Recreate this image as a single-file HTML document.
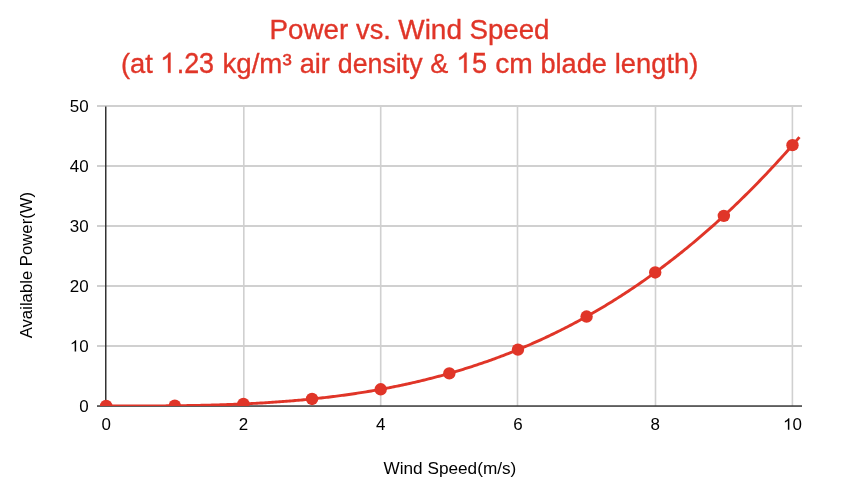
<!DOCTYPE html>
<html><head><meta charset="utf-8"><title>Power vs. Wind Speed</title><style>
html,body{margin:0;padding:0;background:#fff;}
body{width:859px;height:495px;overflow:hidden;}
svg{display:block;font-family:"Liberation Sans",sans-serif;will-change:transform;}
</style></head><body>
<svg width="859" height="495" viewBox="0 0 859 495">
<defs><clipPath id="ca"><rect x="97" y="106" width="705" height="300"/></clipPath></defs>
<g fill="#e03528" stroke="#e03528" stroke-width="0.35" font-size="28">
<text transform="translate(269.60,38.8) scale(0.9923,1.0)">Power</text>
<text transform="translate(356.05,38.8) scale(0.9718,0.985)">vs.</text>
<text transform="translate(398.25,38.8) scale(0.9995,1.0)">Wind</text>
<text transform="translate(469.41,38.8) scale(0.9896,1.0)">Speed</text>
<text transform="translate(120.93,72.7) scale(0.9760,0.985)">(at</text>
<text transform="translate(176.65,72.7) scale(0.9618,1.04)">.23</text>
<text transform="translate(222.48,72.7) scale(0.9882,0.985)">kg/m³</text>
<text transform="translate(299.66,72.7) scale(0.9696,0.985)">air</text>
<text transform="translate(337.80,72.7) scale(0.9558,0.985)">density</text>
<text transform="translate(430.19,72.7) scale(0.9674,0.985)">&amp;</text>
<text transform="translate(472.03,72.7) scale(0.9648,1.04)">5</text>
<text transform="translate(495.23,72.7) scale(1.0078,0.985)">cm</text>
<text transform="translate(540.38,72.7) scale(0.9727,0.985)">blade</text>
<text transform="translate(614.70,72.7) scale(0.9766,0.985)">length)</text>
<path transform="translate(160.07,72.7) scale(0.013672,-0.013672)" d="M763 0L583 0L583 1147Q518 1085 412 1023Q307 961 223 930L223 1104Q374 1175 487 1276Q600 1377 647 1466L763 1466Z" vector-effect="non-scaling-stroke"/>
<path transform="translate(456.17,72.7) scale(0.013672,-0.013672)" d="M763 0L583 0L583 1147Q518 1085 412 1023Q307 961 223 930L223 1104Q374 1175 487 1276Q600 1377 647 1466L763 1466Z" vector-effect="non-scaling-stroke"/>
</g>
<g fill="#d0d0d0"><rect x="97" y="345.0" width="705" height="2"/><rect x="97" y="285.0" width="705" height="2"/><rect x="97" y="225.0" width="705" height="2"/><rect x="97" y="165.0" width="705" height="2"/><rect x="97" y="105.0" width="705" height="2"/><rect x="243.00" y="106" width="1.6" height="300"/><rect x="379.90" y="106" width="1.6" height="300"/><rect x="516.70" y="106" width="1.6" height="300"/><rect x="654.70" y="106" width="1.6" height="300"/><rect x="791.60" y="106" width="1.6" height="300"/></g>
<rect x="97" y="405.3" width="705" height="1.5" fill="#363636"/>
<rect x="105" y="106.5" width="1.5" height="299.5" fill="#333"/>
<g clip-path="url(#ca)">
<polyline points="106.17,406.00 107.90,406.00 109.64,406.00 111.37,406.00 113.10,406.00 114.84,406.00 116.57,406.00 118.30,406.00 120.04,406.00 121.77,406.00 123.50,406.00 125.24,405.99 126.97,405.99 128.70,405.99 130.44,405.99 132.17,405.99 133.90,405.98 135.64,405.98 137.37,405.98 139.10,405.97 140.84,405.97 142.57,405.96 144.30,405.96 146.03,405.95 147.77,405.94 149.50,405.93 151.23,405.93 152.97,405.92 154.70,405.91 156.43,405.90 158.17,405.89 159.90,405.87 161.63,405.86 163.37,405.85 165.10,405.83 166.83,405.82 168.57,405.80 170.30,405.79 172.03,405.77 173.77,405.75 175.50,405.73 177.23,405.71 178.97,405.69 180.70,405.67 182.43,405.64 184.17,405.62 185.90,405.59 187.63,405.56 189.37,405.54 191.10,405.51 192.83,405.47 194.57,405.44 196.30,405.41 198.03,405.37 199.77,405.34 201.50,405.30 203.23,405.26 204.97,405.22 206.70,405.18 208.43,405.14 210.17,405.09 211.90,405.05 213.63,405.00 215.36,404.95 217.10,404.90 218.83,404.85 220.56,404.79 222.30,404.74 224.03,404.68 225.76,404.62 227.50,404.56 229.23,404.50 230.96,404.43 232.70,404.37 234.43,404.30 236.16,404.23 237.90,404.16 239.63,404.08 241.36,404.01 243.10,403.93 244.83,403.85 246.56,403.77 248.30,403.68 250.03,403.60 251.76,403.51 253.50,403.42 255.23,403.33 256.96,403.23 258.70,403.14 260.43,403.04 262.16,402.94 263.90,402.83 265.63,402.73 267.36,402.62 269.10,402.51 270.83,402.40 272.56,402.28 274.30,402.17 276.03,402.05 277.76,401.92 279.50,401.80 281.23,401.67 282.96,401.54 284.69,401.41 286.43,401.27 288.16,401.14 289.89,401.00 291.63,400.85 293.36,400.71 295.09,400.56 296.83,400.41 298.56,400.25 300.29,400.10 302.03,399.94 303.76,399.78 305.49,399.61 307.23,399.44 308.96,399.27 310.69,399.10 312.43,398.92 314.16,398.74 315.89,398.56 317.63,398.37 319.36,398.18 321.09,397.99 322.83,397.79 324.56,397.60 326.29,397.39 328.03,397.19 329.76,396.98 331.49,396.77 333.23,396.55 334.96,396.34 336.69,396.12 338.43,395.89 340.16,395.66 341.89,395.43 343.63,395.20 345.36,394.96 347.09,394.72 348.83,394.47 350.56,394.22 352.29,393.97 354.02,393.71 355.76,393.45 357.49,393.19 359.22,392.92 360.96,392.65 362.69,392.38 364.42,392.10 366.16,391.82 367.89,391.53 369.62,391.25 371.36,390.95 373.09,390.66 374.82,390.35 376.56,390.05 378.29,389.74 380.02,389.43 381.76,389.11 383.49,388.79 385.22,388.47 386.96,388.14 388.69,387.80 390.42,387.47 392.16,387.13 393.89,386.78 395.62,386.43 397.36,386.08 399.09,385.72 400.82,385.36 402.56,384.99 404.29,384.62 406.02,384.25 407.76,383.87 409.49,383.48 411.22,383.09 412.96,382.70 414.69,382.30 416.42,381.90 418.16,381.50 419.89,381.09 421.62,380.67 423.35,380.25 425.09,379.83 426.82,379.40 428.55,378.96 430.29,378.53 432.02,378.08 433.75,377.63 435.49,377.18 437.22,376.72 438.95,376.26 440.69,375.80 442.42,375.32 444.15,374.85 445.89,374.36 447.62,373.88 449.35,373.39 451.09,372.89 452.82,372.39 454.55,371.88 456.29,371.37 458.02,370.85 459.75,370.33 461.49,369.80 463.22,369.27 464.95,368.73 466.69,368.19 468.42,367.64 470.15,367.09 471.89,366.53 473.62,365.97 475.35,365.40 477.09,364.82 478.82,364.24 480.55,363.66 482.29,363.07 484.02,362.47 485.75,361.87 487.49,361.26 489.22,360.65 490.95,360.03 492.68,359.41 494.42,358.78 496.15,358.14 497.88,357.50 499.62,356.86 501.35,356.20 503.08,355.54 504.82,354.88 506.55,354.21 508.28,353.54 510.02,352.85 511.75,352.17 513.48,351.47 515.22,350.77 516.95,350.07 518.68,349.36 520.42,348.64 522.15,347.92 523.88,347.19 525.62,346.45 527.35,345.71 529.08,344.97 530.82,344.21 532.55,343.45 534.28,342.69 536.02,341.92 537.75,341.14 539.48,340.35 541.22,339.56 542.95,338.76 544.68,337.96 546.42,337.15 548.15,336.33 549.88,335.51 551.62,334.68 553.35,333.85 555.08,333.00 556.82,332.16 558.55,331.30 560.28,330.44 562.01,329.57 563.75,328.69 565.48,327.81 567.21,326.92 568.95,326.03 570.68,325.13 572.41,324.22 574.15,323.30 575.88,322.38 577.61,321.45 579.35,320.52 581.08,319.57 582.81,318.62 584.55,317.67 586.28,316.70 588.01,315.73 589.75,314.75 591.48,313.77 593.21,312.78 594.95,311.78 596.68,310.77 598.41,309.76 600.15,308.74 601.88,307.71 603.61,306.68 605.35,305.64 607.08,304.59 608.81,303.53 610.55,302.47 612.28,301.40 614.01,300.32 615.75,299.23 617.48,298.14 619.21,297.04 620.95,295.93 622.68,294.81 624.41,293.69 626.15,292.56 627.88,291.42 629.61,290.28 631.34,289.12 633.08,287.96 634.81,286.79 636.54,285.62 638.28,284.43 640.01,283.24 641.74,282.04 643.48,280.83 645.21,279.62 646.94,278.40 648.68,277.16 650.41,275.93 652.14,274.68 653.88,273.42 655.61,272.16 657.34,270.89 659.08,269.61 660.81,268.33 662.54,267.03 664.28,265.73 666.01,264.42 667.74,263.10 669.48,261.77 671.21,260.44 672.94,259.09 674.68,257.74 676.41,256.38 678.14,255.01 679.88,253.64 681.61,252.25 683.34,250.86 685.08,249.45 686.81,248.04 688.54,246.63 690.28,245.20 692.01,243.76 693.74,242.32 695.48,240.87 697.21,239.40 698.94,237.93 700.67,236.46 702.41,234.97 704.14,233.47 705.87,231.97 707.61,230.45 709.34,228.93 711.07,227.40 712.81,225.86 714.54,224.31 716.27,222.76 718.01,221.19 719.74,219.62 721.47,218.03 723.21,216.44 724.94,214.84 726.67,213.23 728.41,211.61 730.14,209.98 731.87,208.34 733.61,206.69 735.34,205.03 737.07,203.37 738.81,201.69 740.54,200.01 742.27,198.32 744.01,196.62 745.74,194.90 747.47,193.18 749.21,191.45 750.94,189.71 752.67,187.96 754.41,186.21 756.14,184.44 757.87,182.66 759.61,180.87 761.34,179.08 763.07,177.27 764.81,175.46 766.54,173.63 768.27,171.80 770.00,169.95 771.74,168.10 773.47,166.24 775.20,164.36 776.94,162.48 778.67,160.59 780.40,158.69 782.14,156.77 783.87,154.85 785.60,152.92 787.34,150.98 789.07,149.03 790.80,147.06 792.54,145.09 794.27,143.11 796.00,141.12 797.74,139.12 799.47,137.11" fill="none" stroke="#e03528" stroke-width="2.9"/>
<g fill="#e03528"><circle cx="106.17" cy="406.00" r="6.2"/><circle cx="174.80" cy="405.74" r="6.2"/><circle cx="243.43" cy="403.91" r="6.2"/><circle cx="312.06" cy="398.96" r="6.2"/><circle cx="380.69" cy="389.31" r="6.2"/><circle cx="449.32" cy="373.40" r="6.2"/><circle cx="517.95" cy="349.66" r="6.2"/><circle cx="586.58" cy="316.54" r="6.2"/><circle cx="655.21" cy="272.45" r="6.2"/><circle cx="723.84" cy="215.85" r="6.2"/><circle cx="792.47" cy="145.17" r="6.2"/></g>
</g>
<g fill="#000" font-size="16"><g transform="translate(88.7,411.60) scale(1.06,1.04)"><text text-anchor="end">0</text></g><g transform="translate(88.7,351.60) scale(1.06,1.04)"><path transform="translate(-17.797,0) scale(0.0078125,-0.0075120)" d="M763 0L583 0L583 1147Q518 1085 412 1023Q307 961 223 930L223 1104Q374 1175 487 1276Q600 1377 647 1466L763 1466Z"/><text x="-8.898">0</text></g><g transform="translate(88.7,291.60) scale(1.06,1.04)"><text text-anchor="end">20</text></g><g transform="translate(88.7,231.60) scale(1.06,1.04)"><text text-anchor="end">30</text></g><g transform="translate(88.7,171.60) scale(1.06,1.04)"><text text-anchor="end">40</text></g><g transform="translate(88.7,111.60) scale(1.06,1.04)"><text text-anchor="end">50</text></g><g transform="translate(106.17,429.65) scale(1.06,1.04)"><text text-anchor="middle">0</text></g><g transform="translate(243.43,429.65) scale(1.06,1.04)"><text text-anchor="middle">2</text></g><g transform="translate(380.69,429.65) scale(1.06,1.04)"><text text-anchor="middle">4</text></g><g transform="translate(517.95,429.65) scale(1.06,1.04)"><text text-anchor="middle">6</text></g><g transform="translate(655.21,429.65) scale(1.06,1.04)"><text text-anchor="middle">8</text></g><g transform="translate(792.47,429.65) scale(1.06,1.04)"><path transform="translate(-8.898,0) scale(0.0078125,-0.0075120)" d="M763 0L583 0L583 1147Q518 1085 412 1023Q307 961 223 930L223 1104Q374 1175 487 1276Q600 1377 647 1466L763 1466Z"/><text x="0">0</text></g>
<text transform="translate(449.9,473.9) scale(1.012,1.0)" font-size="17" text-anchor="middle">Wind Speed(m/s)</text>
<text transform="translate(31.9,265.1) rotate(-90) scale(0.9835,1.0)" font-size="17" text-anchor="middle">Available Power(W)</text>
</g>
</svg>
</body></html>
